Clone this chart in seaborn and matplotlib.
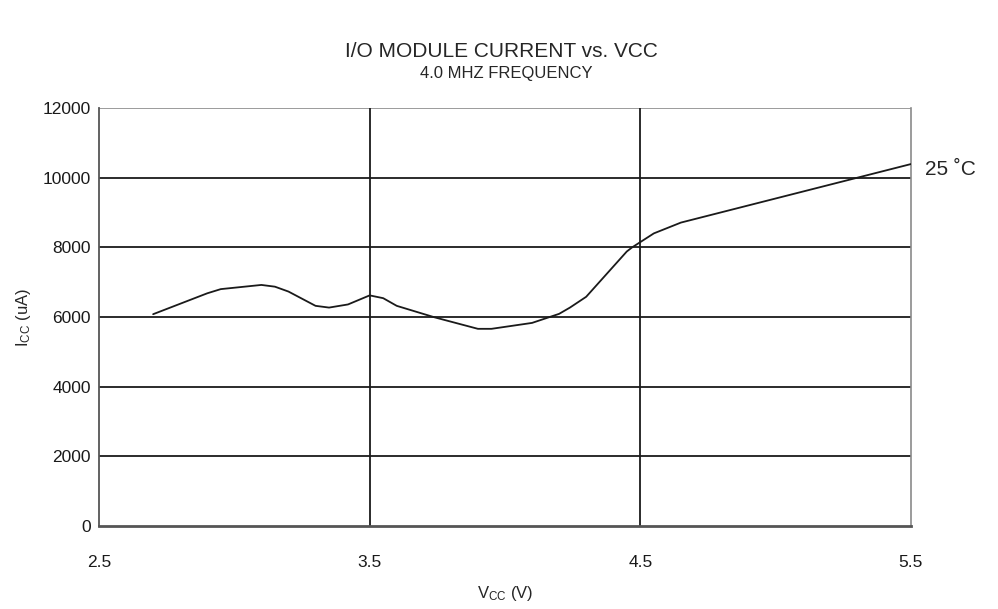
import matplotlib
matplotlib.use("Agg")
import matplotlib.pyplot as plt
import pandas as pd
import seaborn as sns

VCC = [2.70, 2.90, 2.95, 3.10, 3.15, 3.20, 3.30, 3.35, 3.42, 3.50, 3.55, 3.60,
       3.74, 3.90, 3.95, 4.10, 4.15, 4.20, 4.24, 4.30, 4.45, 4.47, 4.55, 4.65, 5.50]
ICC = [6080, 6680, 6800, 6920, 6870, 6730, 6320, 6270, 6360, 6620, 6540, 6320,
       5990, 5660, 5660, 5830, 5960, 6090, 6270, 6580, 7880, 8000, 8400, 8710, 10390]
X_TICKS = [2.5, 3.5, 4.5, 5.5]
Y_TICKS = [0, 2000, 4000, 6000, 8000, 10000, 12000]

sns.set_style("white")
plt.rcParams["font.family"] = ["Liberation Sans", "DejaVu Sans"]
plt.rcParams["mathtext.default"] = "regular"

df = pd.DataFrame({"vcc": VCC, "icc": ICC})

fig = plt.figure(figsize=(9.98, 6.09), dpi=100)
ax = fig.add_axes([0.0992, 0.1363, 0.8136, 0.6864])

for y in Y_TICKS[1:-1]:
    ax.axhline(y, color="#1a1a1a", lw=1.3, zorder=1)
ax.axhline(12000, color="#8a8a8a", lw=1.2, zorder=1)
for x in X_TICKS[1:-1]:
    ax.axvline(x, color="#1a1a1a", lw=1.3, zorder=1)

sns.lineplot(data=df, x="vcc", y="icc", color="#1a1a1a", lw=1.3, ax=ax, zorder=3)

ax.set_xlim(2.5, 5.5)
ax.set_ylim(0, 12000)
ax.set_xticks(X_TICKS)
ax.set_xticklabels(["2.5", "3.5", "4.5", "5.5"])
ax.set_yticks(Y_TICKS)
ax.tick_params(axis="both", direction="out", length=4, width=1, colors="#555555",
               labelcolor="#1a1a1a", labelsize=12.5)
ax.tick_params(axis="x", pad=17)
ax.tick_params(axis="y", pad=2)

ax.spines["top"].set_visible(False)
ax.spines["right"].set_color("#8a8a8a")
ax.spines["right"].set_linewidth(1.2)
ax.spines["left"].set_color("#555555")
ax.spines["left"].set_linewidth(1.3)
ax.spines["bottom"].set_color("#555555")
ax.spines["bottom"].set_linewidth(2)

ax.set_xlabel("V$_{CC}$ (V)", fontsize=12, labelpad=10)
ax.set_ylabel("I$_{CC}$ (uA)", fontsize=12, labelpad=7)

fig.text(0.502, 0.915, "I/O MODULE CURRENT vs. VCC", ha="center", va="center", fontsize=15)
fig.text(0.507, 0.879, "4.0 MHZ FREQUENCY", ha="center", va="center", fontsize=12)
ax.text(1.017, 10220, "25 ˚C", transform=ax.get_yaxis_transform(), ha="left",
        va="center", fontsize=15)

fig.savefig("out.png", dpi=100)
